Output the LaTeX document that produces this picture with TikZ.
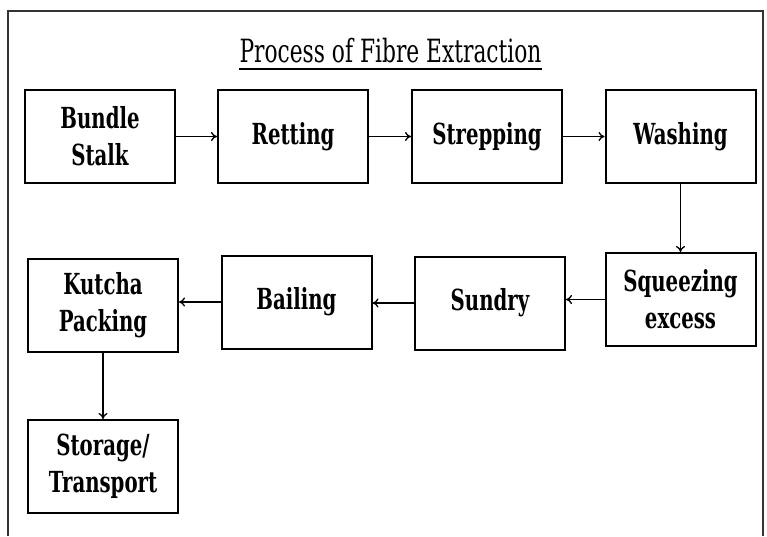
\documentclass[tikz,border=0pt]{standalone}
\usepackage{fontspec}
\setmainfont{DejaVu Serif}[FakeStretch=0.68]
\newfontfamily\boxfont{DejaVu Serif}[FakeStretch=0.68]
\usetikzlibrary{arrows.meta}
\begin{document}
\begin{tikzpicture}[x=1pt,y=-1pt,
  stepbox/.style={draw,line width=2pt,minimum width=150pt,minimum height=93pt,
    align=center,inner sep=0pt,font=\boxfont\fontsize{29}{37}\selectfont\bfseries},
  flow/.style={line width=1.3pt,-{To[length=6pt,width=9pt]}}]
\useasboundingbox (0,0) rectangle (767,536);
\draw[line width=1.5pt,black!80] (8,536) -- (8,11) -- (763,11) -- (763,536);
\node[font=\fontsize{32}{38}\selectfont,inner sep=0pt,anchor=base] (title) at (390.5,62) {Process of Fibre Extraction};
\draw[line width=1.8pt] (title.base west |- 0,69) -- (title.base east |- 0,69);
\node[stepbox] (bundle) at (100,136.5) {Bundle\\Stalk};
\node[stepbox] (retting) at (293,136.5) {Retting};
\node[stepbox] (strep) at (487,136.5) {Strepping};
\node[stepbox] (wash) at (680.5,136.5) {Washing};
\node[stepbox] (squeeze) at (680.5,299.5) {Squeezing\\excess};
\node[stepbox] (sundry) at (490,303) {Sundry};
\node[stepbox] (bailing) at (296.5,302) {Bailing};
\node[stepbox] (kutcha) at (103,305) {Kutcha\\Packing};
\node[stepbox] (storage) at (103,466.5) {Storage/\\Transport};
\draw[flow] (bundle) -- (retting);
\draw[flow] (retting) -- (strep);
\draw[flow] (strep) -- (wash);
\draw[flow] (wash) -- (squeeze);
\draw[flow] (squeeze.west) -- (squeeze.west -| sundry.east);
\draw[flow] (sundry.west) -- (sundry.west -| bailing.east);
\draw[flow] (bailing.west) -- (bailing.west -| kutcha.east);
\draw[flow] (kutcha) -- (storage);
\end{tikzpicture}
\end{document}
